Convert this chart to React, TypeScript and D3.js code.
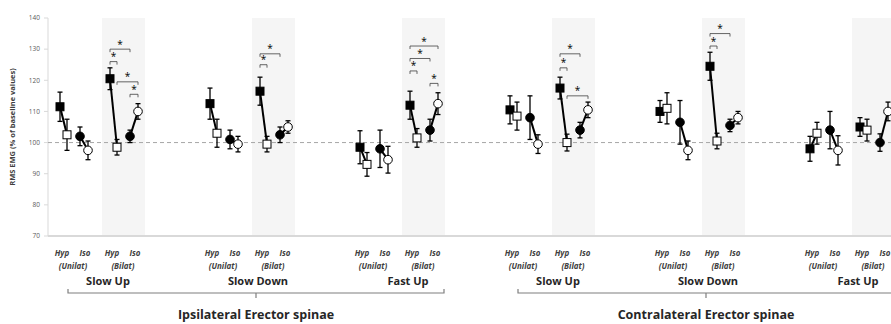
import React, { useRef, useEffect } from "react";
import * as d3 from "d3";

// Grupos: 2 músculos x 3 tareas
const sides = ["Ipsilateral Erector spinae", "Contralateral Erector spinae"];
const tasks = ["Slow Up", "Slow Down", "Fast Up"];
const conditions = ["Unilat", "Bilat"];
const exercises = ["Hyp", "Iso"];

// Orden por grupo: Unilat-Hyp, Unilat-Iso, Bilat-Hyp, Bilat-Iso
const preMeans = [
  111.5, 102, 120.5, 102,
  112.5, 101, 116.5, 102.5,
  98.5, 98, 112, 104,
  110.5, 108, 117.5, 104,
  110, 106.5, 124.5, 105.5,
  98, 104, 105, 100,
];
const preSD = [
  4.7, 3, 3.5, 2,
  5, 3, 4.5, 2.5,
  5.3, 6, 4.5, 3.5,
  4.5, 7, 3.5, 2.5,
  3.5, 7, 4.5, 2,
  4, 6, 3, 2.8,
];
const postMeans = [
  102.5, 97.5, 98.5, 110,
  103, 99.5, 99.5, 105,
  93, 94.5, 101.5, 112.5,
  108.5, 99.5, 100, 110.5,
  111, 97.5, 100.5, 108,
  103, 97.5, 104, 110,
];
const postSD = [
  5, 3, 2.5, 2.5,
  4.5, 2.5, 2.5, 2,
  3.8, 4.3, 3, 3.5,
  4.5, 3, 2.7, 2.5,
  5, 3, 2.5, 2,
  3.5, 4.7, 3.5, 3,
];

// Comparaciones significativas (condición Bilat): grupo, desde, hasta, nivel
const sigGroup = [0, 0, 0, 0, 1, 1, 2, 2, 2, 2, 3, 3, 3, 4, 4];
const sigFrom = ["HypPre", "HypPre", "HypPost", "IsoPre", "HypPre", "HypPre", "HypPre", "HypPre", "HypPre", "IsoPre", "HypPre", "HypPre", "HypPost", "HypPre", "HypPre"];
const sigTo = ["IsoPre", "HypPost", "IsoPost", "IsoPost", "IsoPre", "HypPost", "IsoPost", "IsoPre", "HypPost", "IsoPost", "IsoPre", "HypPost", "IsoPost", "IsoPre", "HypPost"];
const sigLevel = [130, 126, 119.5, 115.5, 128.5, 125, 131, 127, 123, 119, 128.5, 124, 115, 135, 131];

const yTicks = [70, 80, 90, 100, 110, 120, 130, 140];

const W = 891;
const H = 324;

export default function App() {
  const ref = useRef<SVGSVGElement>(null);

  useEffect(() => {
    const svg = d3.select(ref.current);
    svg.selectAll("*").remove();

    const font = "'Open Sans', sans-serif";
    const groups = sides.flatMap((s) => tasks.map((t) => `${s}|${t}`));

    const y = d3.scaleLinear().domain([70, 140]).range([236, 18]);
    const xGroup = d3.scaleBand().domain(groups).range([48, 948]);
    const xCond = d3.scaleOrdinal<string, number>().domain(conditions).range([25, 75]);
    const xSub = d3
      .scaleOrdinal<string, number>()
      .domain(["HypPre", "HypPost", "IsoPre", "IsoPost"])
      .range([-13, -6, 7, 15]);
    const xLabel = d3.scaleOrdinal<string, number>().domain(exercises).range([-11, 12]);

    const px = (g: number, c: string, k: string) =>
      (xGroup(groups[g]) as number) + xCond(c) + xSub(k);

    // bandas sombreadas (Bilat)
    groups.forEach((g) => {
      const cx = (xGroup(g) as number) + xCond("Bilat");
      svg.append("rect").attr("x", cx - 21).attr("y", y(140)).attr("width", 43)
        .attr("height", y(70) - y(140)).attr("fill", "#f5f5f5");
    });

    // eje Y
    svg.append("line").attr("x1", 48).attr("x2", 48).attr("y1", y(140)).attr("y2", y(70))
      .attr("stroke", "#d9d9d9").attr("stroke-width", 1);
    const yt = svg.append("g").selectAll("g").data(yTicks).join("g")
      .attr("transform", (d) => `translate(48,${y(d)})`);
    yt.append("line").attr("x1", -4).attr("x2", 0).attr("stroke", "#d9d9d9");
    yt.append("text").attr("x", -8).attr("dy", "0.35em").attr("text-anchor", "end")
      .attr("font-size", 6.5).attr("fill", "#595959").attr("font-family", font).text((d) => d);

    svg.append("text")
      .attr("transform", `translate(15,${(y(140) + y(70)) / 2}) rotate(-90)`)
      .attr("text-anchor", "middle").attr("font-size", 7.5).attr("font-weight", "bold")
      .attr("fill", "#404040").attr("font-family", font)
      .text("RMS EMG (% of baseline values)");

    // eje X y línea de referencia
    svg.append("line").attr("x1", 48).attr("x2", W).attr("y1", y(70)).attr("y2", y(70))
      .attr("stroke", "#d9d9d9").attr("stroke-width", 2);
    svg.append("line").attr("x1", 48).attr("x2", W).attr("y1", y(100)).attr("y2", y(100))
      .attr("stroke", "#a6a6a6").attr("stroke-width", 1).attr("stroke-dasharray", "4,3");

    // puntos
    groups.forEach((g, gi) => {
      conditions.forEach((c, ci) => {
        exercises.forEach((e, ei) => {
          const i = gi * 4 + ci * 2 + ei;
          const pts = [
            { k: `${e}Pre`, m: preMeans[i], sd: preSD[i], filled: true },
            { k: `${e}Post`, m: postMeans[i], sd: postSD[i], filled: false },
          ];
          const grp = svg.append("g");
          pts.forEach((p) => {
            const x = px(gi, c, p.k);
            grp.append("line").attr("x1", x).attr("x2", x)
              .attr("y1", y(p.m - p.sd)).attr("y2", y(p.m + p.sd))
              .attr("stroke", "#000").attr("stroke-width", 1.3);
            [p.m - p.sd, p.m + p.sd].forEach((v) =>
              grp.append("line").attr("x1", x - 2.5).attr("x2", x + 2.5)
                .attr("y1", y(v)).attr("y2", y(v)).attr("stroke", "#000").attr("stroke-width", 1.3)
            );
          });
          grp.append("line")
            .attr("x1", px(gi, c, pts[0].k)).attr("y1", y(pts[0].m))
            .attr("x2", px(gi, c, pts[1].k)).attr("y2", y(pts[1].m))
            .attr("stroke", "#000").attr("stroke-width", 2);
          pts.forEach((p) => {
            const x = px(gi, c, p.k);
            const fill = p.filled ? "#000" : "#fff";
            if (e === "Hyp") {
              grp.append("rect").attr("x", x - 4).attr("y", y(p.m) - 4).attr("width", 8)
                .attr("height", 8).attr("fill", fill).attr("stroke", "#000").attr("stroke-width", 1);
            } else {
              grp.append("circle").attr("cx", x).attr("cy", y(p.m)).attr("r", 4.3)
                .attr("fill", fill).attr("stroke", "#000").attr("stroke-width", 1);
            }
          });
        });

        // etiquetas Hyp / Iso y condición
        const cx = (xGroup(g) as number) + xCond(c);
        exercises.forEach((e) =>
          svg.append("text").attr("x", cx + xLabel(e)).attr("y", 256).attr("text-anchor", "middle")
            .attr("font-size", 8).attr("font-style", "italic").attr("font-weight", "bold")
            .attr("fill", "#404040").attr("font-family", font).text(e)
        );
        svg.append("text").attr("x", cx).attr("y", 269).attr("text-anchor", "middle")
          .attr("font-size", 8).attr("font-style", "italic").attr("font-weight", "bold")
          .attr("fill", "#404040").attr("font-family", font).text(`(${c})`);
      });

      svg.append("text").attr("x", (xGroup(g) as number) + 60).attr("y", 285)
        .attr("text-anchor", "middle").attr("font-size", 11).attr("font-weight", "bold")
        .attr("fill", "#262626").attr("font-family", font).text(g.split("|")[1]);
    });

    // llaves de cada músculo
    sides.forEach((s) => {
      const x0 = (xGroup(`${s}|${tasks[0]}`) as number) + xCond("Unilat") - 5;
      const x1 = (xGroup(`${s}|${tasks[2]}`) as number) + xCond("Bilat") + 21;
      const mid = (x0 + x1) / 2;
      svg.append("path")
        .attr("d", `M${x0},289 L${x0},293 L${x1},293 L${x1},289 M${mid},293 L${mid},298`)
        .attr("fill", "none").attr("stroke", "#7f7f7f").attr("stroke-width", 1.2);
      svg.append("text").attr("x", mid).attr("y", 319).attr("text-anchor", "middle")
        .attr("font-size", 12.5).attr("font-weight", "bold").attr("fill", "#262626")
        .attr("font-family", font).text(s);
    });

    // asteriscos de significancia
    sigGroup.forEach((gi, j) => {
      const xa = px(gi, "Bilat", sigFrom[j]);
      const xb = px(gi, "Bilat", sigTo[j]);
      const yy = y(sigLevel[j]);
      svg.append("path")
        .attr("d", `M${xa},${yy + 3} L${xa},${yy} L${xb},${yy} L${xb},${yy + 3}`)
        .attr("fill", "none").attr("stroke", "#404040").attr("stroke-width", 0.8);
      svg.append("text").attr("x", (xa + xb) / 2).attr("y", yy - 1.5)
        .attr("text-anchor", "middle").attr("font-size", 10).attr("fill", "#000")
        .attr("font-family", font).text("*");
    });
  }, []);

  return (
    <svg
      ref={ref}
      width={W}
      height={H}
      style={{ position: "absolute", left: 0, top: 0, background: "#fff" }}
    />
  );
}
